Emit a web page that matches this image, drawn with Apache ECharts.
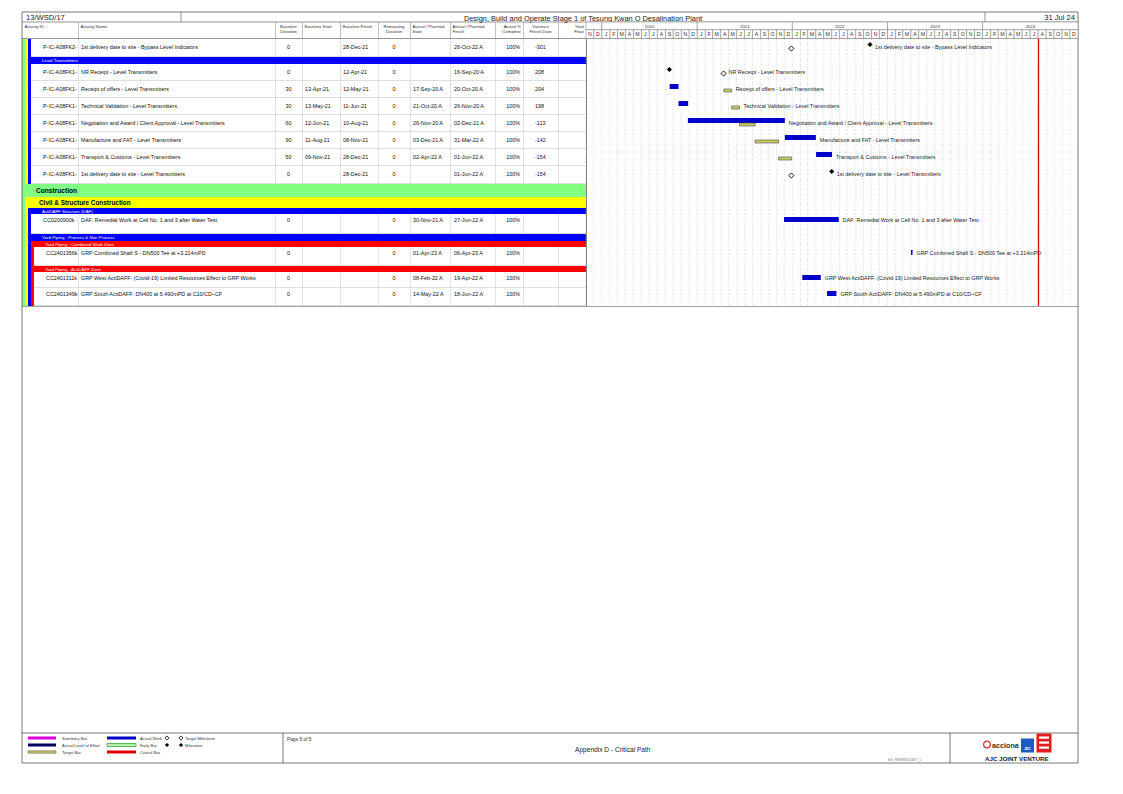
<!DOCTYPE html>
<html>
<head>
<meta charset="utf-8">
<title>Appendix D - Critical Path</title>
<script src="https://cdn.jsdelivr.net/npm/echarts/dist/echarts.min.js"></script>
<style>
html,body{margin:0;padding:0;background:#fff;}
#chart{width:1123px;height:794px;}
</style>
</head>
<body>
<div id="chart"></div>
<script>
// ================= DATA =================
const projectCode = '13/WSD/17';
const projectTitle = 'Design, Build and Operate Stage 1 of Tesung Kwan O Desalination Plant';
const reportDate = '31 Jul 24';
const footerTitle = 'Appendix D - Critical Path';
const pageLabel = 'Page 5 of 5';
const fileLabel = 'file: M/WSD/2407_c';

const columnHeaders = ['Activity ID', 'Activity Name', 'Baseline\nDuration', 'Baseline Start', 'Baseline Finish',
  'Remaining\nDuration', 'Actual / Planned\nStart', 'Actual / Planned\nFinish', 'Actual %\nComplete',
  'Variance\nFinish Date', 'Total\nFloat'];

const timelineStart = '2019-11-01';
const timelineEnd = '2025-01-01';
const dataDate = '2024-08-01';
const monthLetters = ['J', 'F', 'M', 'A', 'M', 'J', 'J', 'A', 'S', 'O', 'N', 'D'];
const yearLabels = ['', '2020', '2021', '2022', '2023', '2024'];

const activityIds = ['P-IC-A08FK2-', 'P-IC-A08FK1-', 'P-IC-A08FK1-', 'P-IC-A08FK1-', 'P-IC-A08FK1-',
  'P-IC-A08FK1-', 'P-IC-A08FK1-', 'P-IC-A08FK1-', 'CC0200900k', 'CC2401356k', 'CC2401311k', 'CC2401349k'];
const activityNames = [
  '1st delivery date to site - Bypass Level Indicators',
  'NR Receipt - Level Transmitters',
  'Receipt of offers - Level Transmitters',
  'Technical Validation - Level Transmitters',
  'Negotiation and Award / Client Approval - Level Transmitters',
  'Manufacture and FAT - Level Transmitters',
  'Transport & Customs - Level Transmitters',
  '1st delivery date to site - Level Transmitters',
  'DAF: Remedial Work at Cell No. 1 and 3 after Water Test',
  'GRP Combined Shaft S - DN500 Tee at +3.214mPD',
  'GRP West ActiDAFF: (Covid-19) Limited Resources Effect to GRP Works',
  'GRP South ActiDAFF: DN400 at 5.490mPD at C10/CD~CF'
];
const activityDepth = [3, 3, 3, 3, 3, 3, 3, 3, 3, 4, 4, 4];
const baselineDuration = ['0', '0', '30', '30', '60', '90', '50', '0', '0', '0', '0', '0'];
const baselineStartText = ['', '', '13-Apr-21', '13-May-21', '12-Jun-21', '11-Aug-21', '09-Nov-21', '', '', '', '', ''];
const baselineFinishText = ['28-Dec-21', '12-Apr-21', '12-May-21', '11-Jun-21', '10-Aug-21', '08-Nov-21', '28-Dec-21', '28-Dec-21', '', '', '', ''];
const remainingDuration = ['0', '0', '0', '0', '0', '0', '0', '0', '0', '0', '0', '0'];
const actualStartText = ['', '', '17-Sep-20 A', '21-Oct-20 A', '26-Nov-20 A', '03-Dec-21 A', '02-Apr-22 A', '', '30-Nov-21 A', '01-Apr-23 A', '08-Feb-22 A', '14-May-22 A'];
const actualFinishText = ['26-Oct-22 A', '16-Sep-20 A', '20-Oct-20 A', '26-Nov-20 A', '02-Dec-21 A', '31-Mar-22 A', '01-Jun-22 A', '01-Jun-22 A', '27-Jun-22 A', '06-Apr-23 A', '19-Apr-22 A', '18-Jun-22 A'];
const percentComplete = ['100%', '100%', '100%', '100%', '100%', '100%', '100%', '100%', '100%', '100%', '100%', '100%'];
const varianceFinish = ['-301', '208', '204', '198', '-113', '-142', '-154', '-154', '', '', '', ''];

// gantt dates (ISO) – null start means milestone
const actualStart = [null, null, '2020-09-17', '2020-10-21', '2020-11-26', '2021-12-03', '2022-04-02', null, '2021-11-30', '2023-04-01', '2022-02-08', '2022-05-14'];
const actualFinish = ['2022-10-26', '2020-09-16', '2020-10-20', '2020-11-26', '2021-12-02', '2022-03-31', '2022-06-01', '2022-06-01', '2022-06-27', '2023-04-06', '2022-04-19', '2022-06-18'];
const targetStart = [null, null, '2021-04-13', '2021-05-13', '2021-06-12', '2021-08-11', '2021-11-09', null, null, null, null, null];
const targetFinish = ['2021-12-28', '2021-04-12', '2021-05-12', '2021-06-11', '2021-08-10', '2021-11-08', '2021-12-28', '2021-12-28', null, null, null, null];

const bandNames = ['Level Transmitters', 'Construction', 'Civil & Structure Construction', 'ActiDAFF Structure (DAF)',
  'Yard Piping - Process & Non Process', 'Yard Piping - Combined Shaft Zone', 'Yard Piping - ActiDAFF Zone'];
const bandLevels = [3, 1, 2, 3, 3, 4, 4];

const rowSequence = ['A0', 'B0', 'A1', 'A2', 'A3', 'A4', 'A5', 'A6', 'A7', 'B1', 'B2', 'B3', 'A8', 'B4', 'B5', 'A9', 'B6', 'A10', 'A11'];

const legendCol1 = ['Summary Bar', 'Actual Level of Effort', 'Target Bar'];
const legendCol2 = ['Actual Work', 'Early Bar', 'Critical Bar'];
const legendCol3 = ['Target Milestone', 'Milestone'];

// ================= LAYOUT / STYLE =================
const FONT = '"Liberation Sans", Arial, sans-serif';
const font = (sz, bold) => (bold ? 'bold ' : '') + sz + 'px ' + FONT;
const FRAME_L = 22, FRAME_R = 1078, FRAME_T = 12, FRAME_B = 763;
const TITLE_B = 22, HEAD_B = 38.5, BODY_T = 39;
const GANTT_L = 586;
const COL_EDGES = [22, 78, 275, 302, 340, 378, 410, 450, 495, 523, 558, 586];
const ROW_HEIGHTS = [18, 7, 17, 17, 17, 17, 17, 17, 18, 13, 11, 6, 20, 7, 6, 19, 6, 16, 18];
const LEVEL_COLORS = {1: '#80ff80', 2: '#ffff00', 3: '#0000ff', 4: '#ff0000'};
const STRIP_W = 3;
const ACTUAL_COLOR = '#0000c8';
const TARGET_FILL = '#cccc66';

const rowTops = [];
let acc = BODY_T;
ROW_HEIGHTS.forEach(h => { rowTops.push(acc); acc += h; });
const BODY_B = acc;

const DAY = 86400000;
const T = s => { const p = s.split('-'); return new Date(+p[0], +p[1] - 1, +p[2]).getTime(); };

// ================= GRAPHIC (table, frame, footer) =================
const G = [];
function R(x, y, w, h, fill, stroke, lw) {
  G.push({type: 'rect', silent: true, shape: {x, y, width: w, height: h},
    style: {fill: fill || 'none', stroke: stroke || null, lineWidth: lw || 0}});
}
function L(x1, y1, x2, y2, stroke, lw, dash) {
  G.push({type: 'line', silent: true, shape: {x1, y1, x2, y2},
    style: {stroke, lineWidth: lw || 0.6, lineDash: dash || null}});
}
function TX(x, y, text, sz, o) {
  o = o || {};
  G.push({type: 'text', silent: true, x, y,
    style: {text, font: font(sz, o.bold), fill: o.fill || '#111', textAlign: o.align || 'left',
      textVerticalAlign: o.va || 'middle', lineHeight: o.lh || sz * 1.15}});
}
function DIAM(x, y, r, filled) {
  G.push({type: 'polygon', silent: true, shape: {points: [[x, y - r], [x + r, y], [x, y + r], [x - r, y]]},
    style: filled ? {fill: '#000'} : {fill: '#fff', stroke: '#000', lineWidth: 0.8}});
}

// table vertical cell lines (body)
for (let c = 1; c < COL_EDGES.length - 1; c++) L(COL_EDGES[c] + 0.5, HEAD_B, COL_EDGES[c] + 0.5, BODY_B, '#cfcfcf', 0.6);

// rows
rowSequence.forEach((key, r) => {
  const top = rowTops[r], h = ROW_HEIGHTS[r];
  const idx = +key.slice(1);
  if (key[0] === 'B') {
    const lv = bandLevels[idx];
    for (let l = 1; l < lv; l++) R(FRAME_L + (l - 1) * STRIP_W, top, STRIP_W, h, LEVEL_COLORS[l]);
    const bx = FRAME_L + (lv - 1) * STRIP_W;
    R(bx, top, GANTT_L - bx, h, LEVEL_COLORS[lv]);
    if (lv <= 2) TX(33 + lv * 3, top + h / 2 + 0.3, bandNames[idx], lv === 1 ? 6.6 : 6.4, {bold: true, fill: '#000'});
    else TX(33 + lv * 3, top + h / 2 + 0.2, bandNames[idx], 4.4, {fill: '#fff'});
  } else {
    const d = activityDepth[idx];
    for (let l = 1; l <= d; l++) R(FRAME_L + (l - 1) * STRIP_W, top, STRIP_W, h, LEVEL_COLORS[l]);
    const sx = FRAME_L + d * STRIP_W;
    L(sx, top + h - 0.5, GANTT_L, top + h - 0.5, '#c8c8c8', 0.6);
    const ty = top + (targetFinish[idx] ? 8 : 6);
    const fs = 5.4;
    TX(sx + 12, ty, activityIds[idx], fs);
    TX(81, ty, activityNames[idx], fs);
    TX(288.5, ty, baselineDuration[idx], fs, {align: 'center'});
    TX(305, ty, baselineStartText[idx], fs);
    TX(343, ty, baselineFinishText[idx], fs);
    TX(394, ty, remainingDuration[idx], fs, {align: 'center'});
    TX(413, ty, actualStartText[idx], fs);
    TX(454, ty, actualFinishText[idx], fs);
    TX(520, ty, percentComplete[idx], fs, {align: 'right'});
    TX(535, ty, varianceFinish[idx], fs);
  }
});

// header area
L(FRAME_L, TITLE_B, FRAME_R, TITLE_B, '#666', 0.7);
L(FRAME_L, HEAD_B, FRAME_R, HEAD_B, '#666', 0.7);
L(181, FRAME_T, 181, TITLE_B, '#666', 0.7);
L(985, FRAME_T, 985, TITLE_B, '#666', 0.7);
TX(26, 17, projectCode, 7.6, {fill: '#222'});
TX(583, 18.3, projectTitle, 7.4, {align: 'center', fill: '#222'});
TX(1075, 17.5, reportDate, 7.6, {align: 'right', fill: '#222'});
for (let c = 1; c < COL_EDGES.length; c++) L(COL_EDGES[c] + 0.5, TITLE_B, COL_EDGES[c] + 0.5, HEAD_B, '#999', 0.6);
const headAlign = ['left', 'left', 'center', 'left', 'left', 'center', 'left', 'left', 'right', 'center', 'right'];
columnHeaders.forEach((t, c) => {
  const a = headAlign[c];
  const x = a === 'left' ? COL_EDGES[c] + 2.5 : a === 'right' ? COL_EDGES[c + 1] - 2 : (COL_EDGES[c] + COL_EDGES[c + 1]) / 2;
  TX(x, 23.5, t, 4.4, {align: a, va: 'top', fill: '#333', lh: 5});
});

// gantt frame + body extras
L(GANTT_L + 0.5, TITLE_B, GANTT_L + 0.5, BODY_B, '#555', 0.8);
L(FRAME_L, BODY_B + 0.5, FRAME_R, BODY_B + 0.5, '#777', 0.7);
L(GANTT_L, rowTops[7] + 3, FRAME_R, rowTops[7] + 3, '#bdbdbd', 0.6, [1, 1.5]);

// outer frame
R(FRAME_L, FRAME_T, FRAME_R - FRAME_L, FRAME_B - FRAME_T, null, '#555', 0.8);

// footer
const FY0 = 733;
L(FRAME_L, FY0, FRAME_R, FY0, '#555', 0.8);
L(283, FY0, 283, FRAME_B, '#555', 0.8);
L(950, FY0, 950, FRAME_B, '#555', 0.8);
TX(287, 739, pageLabel, 4.8, {fill: '#333'});
TX(575, 749, footerTitle, 6.6, {fill: '#222'});
TX(888, 760, fileLabel, 3.8, {fill: '#777'});
// legend
const legY = [738, 745, 752];
const LF = 4.1;
R(28, legY[0] - 1.5, 28, 3, '#e000e0');
R(28, legY[1] - 1.5, 28, 3, '#000060');
R(28, legY[2] - 1.2, 28, 2.4, TARGET_FILL, '#444', 0.5);
legendCol1.forEach((t, i) => TX(62, legY[i], t, LF, {fill: '#333'}));
R(107, legY[0] - 1.5, 29, 3, ACTUAL_COLOR);
R(107, legY[1] - 1.5, 29, 3, '#b0f0b0', '#20a020', 0.7);
R(107, legY[2] - 1.5, 29, 3, '#e00000');
legendCol2.forEach((t, i) => TX(140, legY[i], t, LF, {fill: '#333'}));
DIAM(167, legY[0], 2.1, false);
DIAM(167, legY[1], 2.1, true);
DIAM(181, legY[0], 2.1, false);
DIAM(181, legY[1], 2.1, true);
legendCol3.forEach((t, i) => TX(185, legY[i], t, LF, {fill: '#333'}));
// logo block
G.push({type: 'circle', silent: true, shape: {cx: 987, cy: 744.5, r: 3.4}, style: {fill: 'none', stroke: '#d42020', lineWidth: 1.2}});
TX(992, 745, 'acciona', 7.2, {bold: true, fill: '#333'});
R(1021, 738.5, 13, 14, '#1f5bc4');
TX(1027.5, 748.5, 'JEC', 3.4, {align: 'center', fill: '#fff', bold: true});
R(1036.5, 733.5, 15, 19, '#e02020');
for (let k = 0; k < 3; k++) R(1039, 736.5 + k * 5, 10, 2.2, '#fff');
TX(985, 758.5, 'AJC JOINT VENTURE', 6.2, {bold: true, fill: '#223'});

// ================= SERIES DATA =================
const xMin = T(timelineStart), xMax = T(timelineEnd);

// header cells (years and months)
const headerData = [], headerLabels = [];
{
  const s = new Date(xMin);
  let y = s.getFullYear(), m = s.getMonth();
  let yi = 0, ys = xMin;
  while (ys < xMax) {
    const ye = new Date(new Date(ys).getFullYear() + 1, 0, 1).getTime();
    headerData.push([ys, Math.min(ye, xMax), 0]);
    headerLabels.push(yearLabels[yi++] || '');
    ys = ye;
  }
  while (new Date(y, m, 1).getTime() < xMax) {
    const ms = new Date(y, m, 1).getTime(), me = new Date(y, m + 1, 1).getTime();
    headerData.push([ms, me, 1]);
    headerLabels.push(monthLetters[m]);
    m++; if (m > 11) { m = 0; y++; }
  }
}
const monthLines = headerData.filter(d => d[2] === 1).map(d => [d[0]]);

// gantt marks
const ganttData = [], ganttLabels = [];
rowSequence.forEach((key, r) => {
  if (key[0] !== 'A') return;
  const i = +key.slice(1), top = rowTops[r];
  const hasT = !!targetFinish[i];
  let maxEnd = -Infinity, endIsMs = false;
  if (actualStart[i]) {
    const e = T(actualFinish[i]) + DAY;
    ganttData.push([T(actualStart[i]), e, top + 3, 0]); ganttLabels.push('');
    if (e > maxEnd) { maxEnd = e; endIsMs = false; }
  } else {
    const e = T(actualFinish[i]);
    ganttData.push([e, e, top + 5.5, 2]); ganttLabels.push('');
    if (e > maxEnd) { maxEnd = e; endIsMs = true; }
  }
  if (hasT) {
    if (targetStart[i]) {
      const e = T(targetFinish[i]) + DAY;
      ganttData.push([T(targetStart[i]), e, top + 8, 1]); ganttLabels.push('');
      if (e > maxEnd) { maxEnd = e; endIsMs = false; }
    } else {
      const e = T(targetFinish[i]);
      ganttData.push([e, e, top + 9.5, 3]); ganttLabels.push('');
      if (e > maxEnd) { maxEnd = e; endIsMs = true; }
    }
  }
  ganttData.push([maxEnd, maxEnd, top + (hasT ? 8 : 5.5), endIsMs ? 5 : 4]);
  ganttLabels.push(activityNames[i]);
});

// ================= CHART =================
const chart = echarts.init(document.getElementById('chart'), null, {renderer: 'svg', width: 1123, height: 794});
chart.setOption({
  animation: false,
  backgroundColor: '#fff',
  grid: [
    {left: GANTT_L, top: BODY_T, width: FRAME_R - GANTT_L, height: BODY_B - BODY_T, outerBoundsMode: 'none', containLabel: false},
    {left: GANTT_L, top: TITLE_B, width: FRAME_R - GANTT_L, height: HEAD_B - TITLE_B, outerBoundsMode: 'none', containLabel: false}
  ],
  xAxis: [
    {type: 'time', gridIndex: 0, min: xMin, max: xMax, show: false},
    {type: 'time', gridIndex: 1, min: xMin, max: xMax, show: false}
  ],
  yAxis: [
    {type: 'value', gridIndex: 0, min: BODY_T, max: BODY_B, inverse: true, show: false},
    {type: 'value', gridIndex: 1, min: TITLE_B, max: HEAD_B, inverse: true, show: false}
  ],
  graphic: {elements: G},
  series: [
    {
      type: 'custom', name: 'timescale', xAxisIndex: 1, yAxisIndex: 1, silent: true, clip: false,
      encode: {x: [0, 1], y: 2},
      data: headerData,
      renderItem: (p, api) => {
        const row = api.value(2);
        const mid = (TITLE_B + HEAD_B) / 2 - 0.5;
        const y0 = row === 0 ? TITLE_B : mid, y1 = row === 0 ? mid : HEAD_B;
        const a = api.coord([api.value(0), y0]), b = api.coord([api.value(1), y1]);
        return {type: 'group', children: [
          {type: 'rect', shape: {x: a[0], y: a[1], width: b[0] - a[0], height: b[1] - a[1]},
            style: {fill: '#fff', stroke: '#888', lineWidth: 0.6}},
          {type: 'text', style: {text: headerLabels[p.dataIndex], x: (a[0] + b[0]) / 2, y: (a[1] + b[1]) / 2 + 0.3,
            font: font(row === 0 ? 4.4 : 5.2), fill: '#333', textAlign: 'center', textVerticalAlign: 'middle'}}
        ]};
      }
    },
    {
      type: 'custom', name: 'monthGrid', xAxisIndex: 0, yAxisIndex: 0, silent: true,
      encode: {x: 0},
      data: monthLines,
      renderItem: (p, api) => {
        const a = api.coord([api.value(0), BODY_T]), b = api.coord([api.value(0), BODY_B]);
        return {type: 'line', shape: {x1: a[0], y1: a[1], x2: b[0], y2: b[1]},
          style: {stroke: '#c4c4c4', lineWidth: 0.6, lineDash: [1, 1.5]}};
      }
    },
    {
      type: 'custom', name: 'gantt', xAxisIndex: 0, yAxisIndex: 0, silent: true, clip: false,
      encode: {x: [0, 1], y: 2},
      data: ganttData,
      renderItem: (p, api) => {
        const k = api.value(3);
        const a = api.coord([api.value(0), api.value(2)]), b = api.coord([api.value(1), api.value(2)]);
        if (k === 0) return {type: 'rect', shape: {x: a[0], y: a[1], width: Math.max(b[0] - a[0], 1.3), height: 5}, style: {fill: ACTUAL_COLOR}};
        if (k === 1) return {type: 'rect', shape: {x: a[0], y: a[1], width: Math.max(b[0] - a[0], 1.3), height: 3}, style: {fill: TARGET_FILL, stroke: '#444', lineWidth: 0.6}};
        if (k === 2 || k === 3) {
          const r = 2.6;
          return {type: 'polygon', shape: {points: [[a[0], a[1] - r], [a[0] + r, a[1]], [a[0], a[1] + r], [a[0] - r, a[1]]]},
            style: k === 2 ? {fill: '#000'} : {fill: '#fff', stroke: '#000', lineWidth: 0.9}};
        }
        return {type: 'text', style: {text: ganttLabels[p.dataIndex], x: a[0] + (k === 5 ? 5 : 4), y: a[1],
          font: font(5.4), fill: '#222', textAlign: 'left', textVerticalAlign: 'middle'}};
      },
      markLine: {
        silent: true, symbol: 'none', label: {show: false}, animation: false,
        lineStyle: {color: '#d00000', width: 1.3, type: 'solid'},
        data: [{xAxis: T(dataDate)}]
      }
    }
  ]
});
</script>
</body>
</html>
